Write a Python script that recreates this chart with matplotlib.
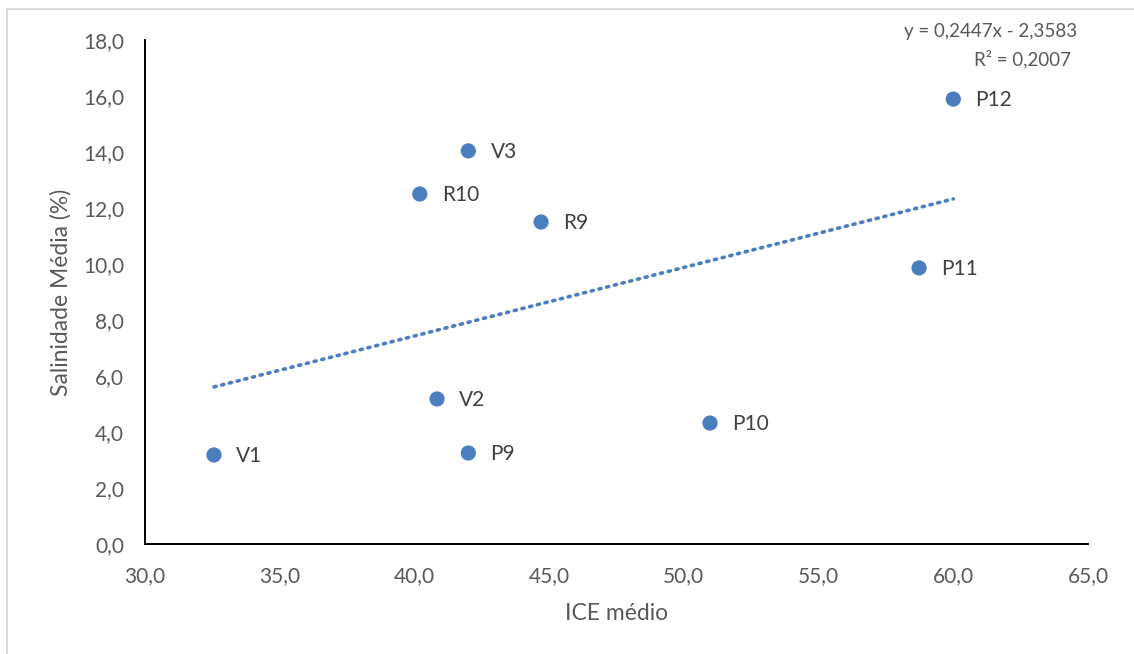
import numpy as np
import matplotlib.pyplot as plt
from matplotlib.patches import Rectangle

plt.rcParams['font.family'] = ['Lato', 'DejaVu Sans']

# pontos amostrados
nomes = ['V1', 'V2', 'V3', 'P9', 'R10', 'R9', 'P10', 'P11', 'P12']
ice = [32.56, 40.84, 42.0, 42.0, 40.2, 44.7, 50.97, 58.73, 60.0]
salinidade = [3.18, 5.18, 14.04, 3.25, 12.5, 11.5, 4.32, 9.86, 15.89]

# linha de tendencia (linear)
a, b = 0.2447, -2.3583
r2 = 0.2007

azul = '#4A7EBF'
cinza = '#595959'

fig = plt.figure(figsize=(11.34, 6.54), dpi=100)
ax = fig.add_axes([145/1134, 1-544/654, (1088-145)/1134, (544-40)/654])

xt = np.array([min(ice), max(ice)])
ax.plot(xt, a*xt + b, ls=(0, (0.6, 1.6)), lw=2.6, color=azul,
        dash_capstyle='round', zorder=2)
ax.scatter(ice, salinidade, s=120, color=azul, zorder=3, edgecolors='none')
for n, xv, yv in zip(nomes, ice, salinidade):
    ax.annotate(n, (xv, yv), xytext=(16, -1), textcoords='offset points',
                va='center', ha='left', fontsize=15, color='#404040')

ax.set_xlim(30, 65)
ax.set_ylim(0, 18)
ax.set_xticks(np.arange(30, 65.1, 5))
ax.set_yticks(np.arange(0, 18.1, 2))
fmt = lambda v: f'{v:.1f}'.replace('.', ',')
ax.set_xticklabels([fmt(v) for v in ax.get_xticks()])
ax.set_yticklabels([fmt(v) for v in ax.get_yticks()])
ax.tick_params(length=0, labelsize=15, labelcolor=cinza)
ax.tick_params(axis='x', pad=16)
ax.tick_params(axis='y', pad=15)
for s in ['top', 'right']:
    ax.spines[s].set_visible(False)
for s in ['left', 'bottom']:
    ax.spines[s].set_linewidth(1.4)
    ax.spines[s].set_color('black')

ax.set_xlabel('ICE médio', fontsize=16.5, color=cinza, labelpad=12)
ax.set_ylabel('Salinidade Média (%)', fontsize=16.5, color=cinza, labelpad=8)

fig.text(1077/1134, 1-31/654, f'y = {a:.4f}x - {abs(b):.4f}'.replace('.', ','),
         ha='right', va='center', fontsize=13.5, color=cinza)
fig.text(1022/1134, 1-59/654, f'R² = {r2:.4f}'.replace('.', ','),
         ha='center', va='center', fontsize=13.5, color=cinza)

fig.patches.append(Rectangle((7/1134, -0.1), 1.2, 1.1 - 9/654,
                             transform=fig.transFigure, fill=False,
                             edgecolor='#D9D9D9', lw=1.5))

fig.savefig('out.png', dpi=100)
